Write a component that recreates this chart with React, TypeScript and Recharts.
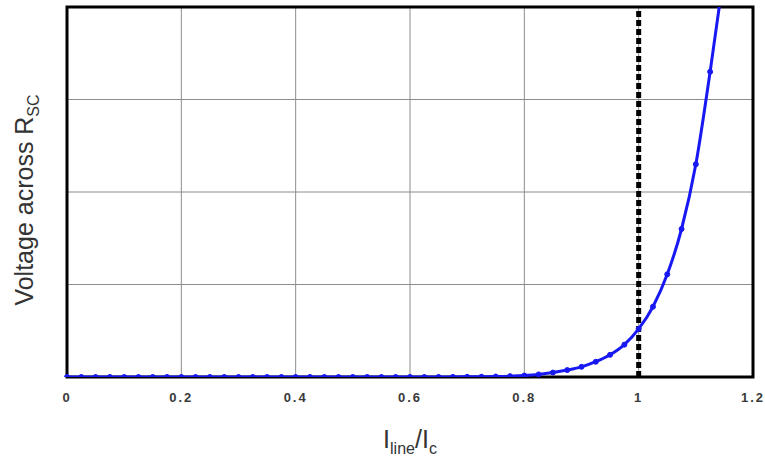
import {
  LineChart,
  Line,
  XAxis,
  YAxis,
  CartesianGrid,
  ReferenceLine,
  ReferenceArea,
  Label,
} from "recharts";

// I_line / I_c sample points and the voltage
const currentRatio = [
  0, 0.025, 0.05, 0.075, 0.1, 0.125, 0.15, 0.175, 0.2, 0.225, 0.25, 0.275,
  0.3, 0.325, 0.35, 0.375, 0.4, 0.425, 0.45, 0.475, 0.5, 0.525, 0.55, 0.575,
  0.6, 0.625, 0.65, 0.675, 0.7, 0.725, 0.75, 0.775, 0.8, 0.825, 0.85, 0.875,
  0.9, 0.925, 0.95, 0.975, 1.0, 1.025, 1.05, 1.075, 1.1, 1.125, 1.15,
];
const voltage = [
  0, 0, 0, 0, 0, 0, 0, 0, 0, 0, 0, 0, 0, 0, 0, 0, 0, 0, 0, 0, 0, 0, 0, 0, 0,
  0, 0.001, 0.001, 0.002, 0.003, 0.005, 0.009, 0.016, 0.028, 0.048, 0.075,
  0.11, 0.165, 0.24, 0.35, 0.52, 0.76, 1.11, 1.6, 2.3, 3.3, 4.4,
];

const xTicks = [0, 0.2, 0.4, 0.6, 0.8, 1, 1.2];
const yTicks = [0, 1, 2, 3, 4];
const criticalRatio = 1;

const data = currentRatio.map((x, i) => ({ x, v: voltage[i] }));

const FONT = '"Liberation Sans", Arial, sans-serif';
const BLUE = "#1818f2";

interface ViewBox {
  x?: number;
  y?: number;
  width?: number;
  height?: number;
}

function XTitle({ viewBox }: { viewBox?: ViewBox }) {
  const vb = viewBox ?? {};
  const cx = (vb.x ?? 0) + (vb.width ?? 0) / 2;
  const y = (vb.y ?? 0) + 71;
  return (
    <text x={cx} y={y} textAnchor="middle" fontFamily={FONT} fontSize={25} fill="#333">
      I
      <tspan dy={6} fontSize={16}>line</tspan>
      <tspan dy={-6}>/I</tspan>
      <tspan dy={6} fontSize={16}>c</tspan>
    </text>
  );
}

function YTitle({ viewBox }: { viewBox?: ViewBox }) {
  const vb = viewBox ?? {};
  const x = (vb.x ?? 0) + 33;
  const cy = (vb.y ?? 0) + (vb.height ?? 0) / 2 + 8;
  return (
    <text
      x={x}
      y={cy}
      transform={`rotate(-90, ${x}, ${cy})`}
      textAnchor="middle"
      fontFamily={FONT}
      fontSize={25}
      fill="#333"
    >
      Voltage across R
      <tspan dy={6} fontSize={16}>SC</tspan>
    </text>
  );
}

export default function App() {
  return (
    <div style={{ position: "absolute", left: 0, top: 0, background: "#fff" }}>
      <LineChart
        width={765}
        height={459}
        data={data}
        margin={{ top: 7, right: 12, bottom: 52, left: 0 }}
      >
        <CartesianGrid
          stroke="#8c8c8c"
          strokeWidth={1}
          horizontalValues={yTicks}
          verticalValues={xTicks}
        />
        <XAxis
          dataKey="x"
          type="number"
          domain={[0, 1.2]}
          ticks={xTicks}
          height={30}
          tickLine={false}
          axisLine={false}
          tickSize={0}
          tickMargin={16}
          tick={{
            fontSize: 13,
            fontWeight: "bold",
            fill: "#3a3a3a",
            fontFamily: FONT,
            letterSpacing: 2,
          }}
          tickFormatter={(v: number) => String(v)}
        >
          <Label content={<XTitle />} />
        </XAxis>
        <YAxis
          type="number"
          domain={[0, 4]}
          ticks={yTicks}
          allowDataOverflow
          width={67}
          tick={{ fill: "none" }}
          tickLine={false}
          axisLine={false}
        >
          <Label content={<YTitle />} />
        </YAxis>
        <ReferenceArea
          x1={0}
          x2={1.2}
          y1={0}
          y2={4}
          fill="none"
          stroke="#000"
          strokeWidth={3}
          ifOverflow="visible"
        />
        <ReferenceLine
          x={criticalRatio}
          stroke="#000"
          strokeWidth={5}
          strokeDasharray="6 3"
        />
        <Line
          type="monotone"
          dataKey="v"
          stroke={BLUE}
          strokeWidth={3}
          dot={{ r: 2.5, fill: BLUE, stroke: BLUE, strokeWidth: 1 }}
          isAnimationActive={false}
        />
      </LineChart>
    </div>
  );
}
